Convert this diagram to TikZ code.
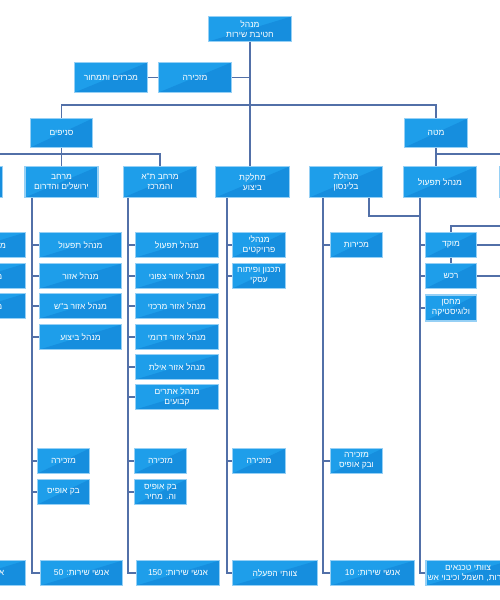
\documentclass[tikz,border=0pt]{standalone}
\usepackage{fontspec}
\usepackage{tikz}
\usetikzlibrary{positioning,calc}
\newfontfamily\heb[Script=Hebrew]{Liberation Sans}
\TeXXeTstate=1
\newcommand{\rl}[1]{\beginR #1\endR}
\definecolor{boxblue}{RGB}{30,158,234}
\definecolor{boxshade}{RGB}{22,142,222}
\definecolor{boxedge}{RGB}{150,208,245}
\definecolor{linkblue}{RGB}{82,112,168}
\tikzset{
  unit/.style={draw=boxedge, line width=1.3pt, fill=boxblue, text=white,
    minimum height=25pt, minimum width=#1, inner sep=0.5pt, align=center,
    font=\heb\fontsize{8.5}{10}\selectfont,
    path picture={\fill[boxshade] (path picture bounding box.south west)
      -- (path picture bounding box.north east)
      -- (path picture bounding box.south east) -- cycle;}},
  unit/.default=74pt,
  link/.style={draw=linkblue, line width=1.1pt}
}

\begin{document}
\begin{tikzpicture}[x=1pt,y=-1pt]
\useasboundingbox (0,0) rectangle (500,600);
\clip (0,0) rectangle (500,600);

% head of division
\node[unit=83pt] (boss) at (250,29) {\rl{מנהל}\\\rl{חטיבת שירות}};
\node[unit=73pt, minimum height=30pt] (sec) at (195,77.5) {\rl{מזכירה}};
\node[unit=73pt, minimum height=30pt] (tender) at (111,77.5) {\rl{מכרזים ותמחור}};
\node[unit=62pt, minimum height=29pt] (branches) at (61.5,133) {\rl{סניפים}};
\node[unit=63pt, minimum height=29pt] (hq) at (436,133) {\rl{מטה}};

% second level
\node[unit=73pt, minimum height=31pt] (farleft) at (-34,182) {};
\node[unit=73pt, minimum height=31pt] (jrs) at (61.5,182) {\rl{מרחב}\\\rl{ירושלים והדרום}};
\node[unit=73pt, minimum height=31pt] (tlv) at (160,182) {\rl{מרחב ת"א}\\\rl{והמרכז}};
\node[unit=74pt, minimum height=31pt] (exec) at (252.5,182) {\rl{מחלקת}\\\rl{ביצוע}};
\node[unit=73pt, minimum height=31pt] (blns) at (346,182) {\rl{מנהלת}\\\rl{בלינסון}};
\node[unit=73pt, minimum height=31pt] (ops) at (440,182) {\rl{מנהל תפעול}};
\node[unit=73pt, minimum height=31pt] (farright) at (536,182) {};

% far left column (cut off)
\node[unit=83pt] (f1) at (-16,245) {\rl{מנהל תפעול}};
\node[unit=83pt] (f2) at (-16,276) {\rl{מנהל אזור}};
\node[unit=83pt] (f3) at (-16,306) {\rl{מנהל אזור}};
\node[unit=83pt] (fstaff) at (-16,573) {\rl{אנשי שירות}};

% jerusalem and south
\node[unit=82pt] (j1) at (80.5,245) {\rl{מנהל תפעול}};
\node[unit=82pt] (j2) at (80.5,276) {\rl{מנהל אזור}};
\node[unit=82pt] (j3) at (80.5,306) {\rl{מנהל אזור ב"ש}};
\node[unit=82pt] (j4) at (80.5,337) {\rl{מנהל ביצוע}};
\node[unit=52pt] (jsec) at (63.5,461) {\rl{מזכירה}};
\node[unit=52pt] (jback) at (63.5,492) {\rl{בק אופיס}};
\node[unit=82pt] (jstaff) at (81.5,573) {\rl{אנשי שירות: 50}};

% tel aviv and center
\node[unit=83pt] (t1) at (177,245) {\rl{מנהל תפעול}};
\node[unit=83pt] (t2) at (177,276) {\rl{מנהל אזור צפוני}};
\node[unit=83pt] (t3) at (177,306) {\rl{מנהל אזור מרכזי}};
\node[unit=83pt] (t4) at (177,337) {\rl{מנהל אזור דרומי}};
\node[unit=83pt] (t5) at (177,367) {\rl{מנהל אזור אילת}};
\node[unit=83pt] (t6) at (177,397) {\rl{מנהל אתרים}\\\rl{קבועים}};
\node[unit=52pt] (tsec) at (160.5,461) {\rl{מזכירה}};
\node[unit=52pt] (tback) at (160.5,492) {\rl{בק אופיס}\\\rl{וה. מחיר}};
\node[unit=83pt] (tstaff) at (178,573) {\rl{אנשי שירות: 150}};

% execution
\node[unit=53pt] (e1) at (259,245) {\rl{מנהלי}\\\rl{פרויקטים}};
\node[unit=53pt] (e2) at (259,276) {\rl{תכנון ופיתוח}\\\rl{עסקי}};
\node[unit=53pt] (esec) at (259,461) {\rl{מזכירה}};
\node[unit=85pt] (estaff) at (275,573) {\rl{צוותי הפעלה}};

% administration
\node[unit=52pt] (b1) at (356.5,245) {\rl{מכירות}};
\node[unit=52pt] (bsec) at (356.5,461) {\rl{מזכירה}\\\rl{ובק אופיס}};
\node[unit=84pt] (bstaff) at (372.5,573) {\rl{אנשי שירות: 10}};

% operations
\node[unit=51pt] (o1) at (451,245) {\rl{מוקד}};
\node[unit=51pt] (o2) at (451,276) {\rl{רכש}};
\node[unit=51pt, minimum height=26pt] (o3) at (451,308) {\rl{מחסן}\\\rl{ולוגיסטיקה}};
\node[unit=84pt] (ostaff) at (468,573) {\rl{צוותי טכנאים}\\\rl{נגרות, חשמל וכיבוי אש}};

% top links
\coordinate (topbar) at (250,105);
\draw[link] (boss.south) -- (boss.south |- exec.north);
\draw[link] (sec.east) -- (sec.east -| boss.south);
\draw[link] (tender) -- (sec);
\draw[link] (branches.north) |- (topbar) -| (hq.north);
\coordinate (brbar) at (61.5,154);
\draw[link] (branches.south) -- (jrs.north);
\draw[link] (farleft.north) |- (brbar) -| (tlv.north);
\coordinate (hqbar) at (437,154);
\draw[link] (hq.south) -- (hq.south |- ops.north);
\draw[link] (hqbar) -| (farright.north);

% spines
\coordinate (jsp) at (32,198);
\coordinate (tsp) at (128,198);
\coordinate (esp) at (227,198);
\coordinate (bsp) at (323,198);
\coordinate (osp) at (420,198);
\draw[link] (jsp) |- (jstaff.west);
\draw[link] (tsp) |- (tstaff.west);
\draw[link] (esp) |- (estaff.west);
\draw[link] (bsp) |- (bstaff.west);
\draw[link] (osp) |- (ostaff.west);
\foreach \n in {j1,j2,j3,j4,jsec,jback}
  \draw[link] (\n.west) -- (\n.west -| jsp);
\foreach \n in {t1,t2,t3,t4,t5,t6,tsec,tback}
  \draw[link] (\n.west) -- (\n.west -| tsp);
\foreach \n in {e1,e2,esec}
  \draw[link] (\n.west) -- (\n.west -| esp);
\foreach \n in {b1,bsec}
  \draw[link] (\n.west) -- (\n.west -| bsp);
\foreach \n in {o1,o2,o3}
  \draw[link] (\n.west) -- (\n.west -| osp);

% cross links
\coordinate (bdrop) at (369,198);
\coordinate (ojoin) at (420,216);
\draw[link] (bdrop) |- (ojoin);
\coordinate (rbus) at (510,226);
\draw[link] (rbus) -| (o1.north);
\draw[link] (o1.south) -- (o2.north);
\draw[link] (o1.east) -- (o1.east -| rbus);
\draw[link] (o2.east) -- (o2.east -| rbus);
\end{tikzpicture}
\end{document}
